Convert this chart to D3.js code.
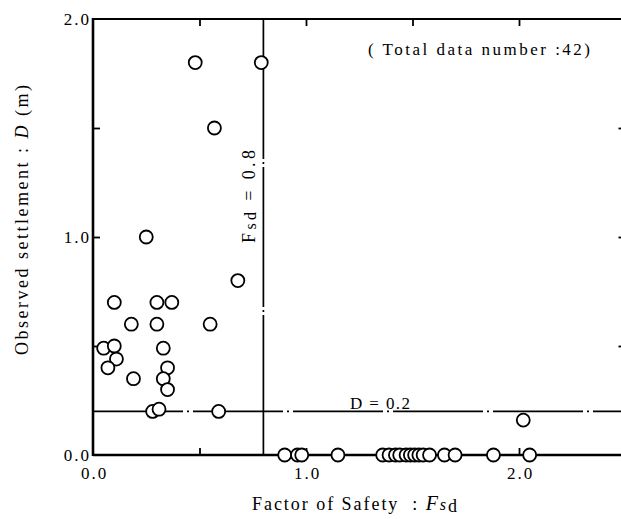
<!DOCTYPE html>
<html>
<head>
<meta charset="utf-8">
<script src="https://cdn.jsdelivr.net/npm/d3@7"></script>
<style>
  body { margin: 0; background: #fff; }
  svg { display: block; font-family: "Liberation Serif", "DejaVu Serif", serif; }
  text { white-space: pre; }
</style>
</head>
<body>
<svg id="chart" width="621" height="519"></svg>
<script>
// data: factor of safety and observed settlement (m)
let fsd = [0.48, 0.79, 0.57, 0.25, 0.68,
  0.10, 0.30, 0.37, 0.18, 0.30, 0.55,
  0.05, 0.10, 0.33, 0.11, 0.07, 0.35,
  0.19, 0.33, 0.35, 0.28, 0.31, 0.59, 2.02,
  0.90, 0.96, 0.98, 1.15, 1.36, 1.39, 1.42, 1.44, 1.47,
  1.49, 1.51, 1.53, 1.55, 1.58, 1.65, 1.70, 1.88, 2.05];
let settlement = [1.80, 1.80, 1.50, 1.00, 0.80,
  0.70, 0.70, 0.70, 0.60, 0.60, 0.60,
  0.49, 0.50, 0.49, 0.44, 0.40, 0.40,
  0.35, 0.35, 0.30, 0.20, 0.21, 0.20, 0.16,
  0, 0, 0, 0, 0, 0, 0, 0, 0,
  0, 0, 0, 0, 0, 0, 0, 0, 0];

let xTickLabels = [0, 1, 2];
let yTickLabels = [0, 1, 2];
let minorTicks = [0.5, 1.0, 1.5, 2.0];
let fsdLimit = 0.8;
let dLimit = 0.2;

let svg = d3.select("#chart");

// scales: origin near (93, 455)
let x = d3.scaleLinear().domain([0, 2.5]).range([93, 625.5]);
let y = d3.scaleLinear().domain([0, 2]).range([455, 19]);

// spread a text over a given length by letter spacing
function spread(t, len) {
  let w = t.node().getComputedTextLength();
  let n = t.text().length;
  t.attr("letter-spacing", (len - w) / (n - 1));
}

// frame
let frame = svg.append("g").attr("stroke", "#000").attr("fill", "none");
frame.append("line").attr("x1", x(0)).attr("x2", x(0)).attr("y1", y(2) - 1).attr("y2", y(0) + 1).attr("stroke-width", 2.6);
frame.append("line").attr("x1", x(0)).attr("x2", x(2.5)).attr("y1", y(0)).attr("y2", y(0)).attr("stroke-width", 2.4);
frame.append("line").attr("x1", x(0)).attr("x2", x(2.5)).attr("y1", y(2)).attr("y2", y(2)).attr("stroke-width", 1.8);
frame.append("line").attr("x1", x(2.5)).attr("x2", x(2.5)).attr("y1", y(2)).attr("y2", y(0)).attr("stroke-width", 1.8);

// inward ticks
svg.append("g").attr("transform", `translate(0,${y(0)})`)
  .call(d3.axisBottom(x).tickValues(minorTicks).tickSize(-7).tickFormat(""))
  .call(g => g.select(".domain").remove());
svg.append("g").attr("transform", `translate(0,${y(2)})`)
  .call(d3.axisTop(x).tickValues(minorTicks).tickSize(-7).tickFormat(""))
  .call(g => g.select(".domain").remove());
svg.append("g").attr("transform", `translate(${x(0)},0)`)
  .call(d3.axisLeft(y).tickValues([0.5, 1.0, 1.5]).tickSize(-7).tickFormat(""))
  .call(g => g.select(".domain").remove());
svg.append("g").attr("transform", `translate(${x(2.5)},0)`)
  .call(d3.axisRight(y).tickValues([0.5, 1.0, 1.5]).tickSize(-7).tickFormat(""))
  .call(g => g.select(".domain").remove());
svg.selectAll(".tick line").attr("stroke", "#000").attr("stroke-width", 1.8);

// tick labels
let xAxis = svg.append("g").attr("transform", `translate(0,${y(0)})`)
  .call(d3.axisBottom(x).tickValues(xTickLabels).tickFormat(d3.format(".1f")).tickSize(0).tickPadding(12));
xAxis.select(".domain").remove();
let yAxis = svg.append("g").attr("transform", `translate(${x(0) - 2},0)`)
  .call(d3.axisLeft(y).tickValues(yTickLabels).tickFormat(d3.format(".1f")).tickSize(0).tickPadding(2));
yAxis.select(".domain").remove();
svg.selectAll(".tick text")
  .attr("font-family", "Liberation Serif, serif")
  .attr("font-size", 17)
  .attr("letter-spacing", 2)
  .attr("fill", "#000");
yAxis.selectAll(".tick text").attr("dx", 2).attr("dy", "0.3em");
xAxis.selectAll(".tick text").attr("dx", 1);

// reference lines
svg.append("line")
  .attr("x1", x(fsdLimit)).attr("x2", x(fsdLimit))
  .attr("y1", y(2)).attr("y2", y(0))
  .attr("stroke", "#000").attr("stroke-width", 1.7)
  .attr("stroke-dasharray", "140,3,2,3");
svg.append("line")
  .attr("x1", x(0)).attr("x2", x(2.5))
  .attr("y1", y(dLimit)).attr("y2", y(dLimit))
  .attr("stroke", "#000").attr("stroke-width", 1.7)
  .attr("stroke-dasharray", "90,4,2,4");

// points
svg.append("g").selectAll("circle")
  .data(fsd)
  .enter()
  .append("circle")
  .attr("cx", d => x(d))
  .attr("cy", (d, i) => y(settlement[i]))
  .attr("r", 6.5)
  .attr("fill", "#fff")
  .attr("stroke", "#000")
  .attr("stroke-width", 1.8);

// labels
let fLabel = svg.append("text")
  .attr("transform", "translate(255,243) rotate(-90)")
  .attr("font-size", 18).attr("fill", "#000");
fLabel.append("tspan").text("F");
fLabel.append("tspan").attr("font-size", 16).attr("dy", 1).text("sd");
fLabel.append("tspan").attr("dy", -1).text(" = 0.8");
spread(fLabel, 93);

let dLabel = svg.append("text").attr("x", 350).attr("y", 409)
  .attr("font-size", 17).attr("fill", "#000").text("D = 0.2");
spread(dLabel, 60);

let total = svg.append("text").attr("x", 368).attr("y", 55)
  .attr("font-size", 17).attr("fill", "#000").text("( Total data number :42)");
spread(total, 222);

let xTitle = svg.append("text").attr("x", 252).attr("y", 510)
  .attr("font-size", 18).attr("fill", "#000");
xTitle.append("tspan").text("Factor of Safety  : ");
xTitle.append("tspan").attr("font-style", "italic").attr("font-size", 20).text("F");
xTitle.append("tspan").attr("font-style", "italic").attr("font-size", 16).text("s");
xTitle.append("tspan").attr("font-size", 18).attr("dy", 2).text("d");
spread(xTitle, 205);

let yTitle = svg.append("text")
  .attr("transform", "translate(28,355) rotate(-90)")
  .attr("font-size", 18).attr("fill", "#000");
yTitle.append("tspan").text("Observed settlement : ");
yTitle.append("tspan").attr("font-style", "italic").text("D");
yTitle.append("tspan").text(" (m)");
spread(yTitle, 270);
</script>
</body>
</html>
